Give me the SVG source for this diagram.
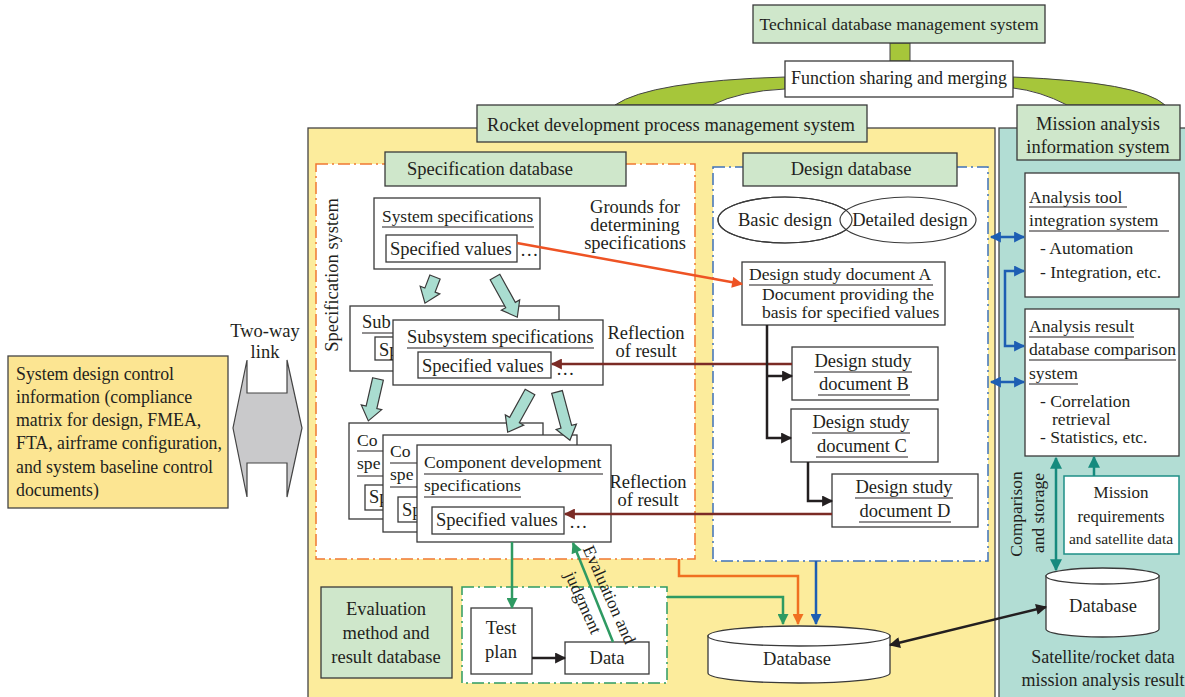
<svg xmlns="http://www.w3.org/2000/svg" width="1185" height="697" viewBox="0 0 1185 697">
<defs>
<style>
text{font-family:"Liberation Serif","Times New Roman",serif;font-size:18.5px;fill:#231f20}
.c{text-anchor:middle}
.s{font-size:17.6px}
.box{fill:#fff;stroke:#3a3a3a;stroke-width:1.3}
.lbl{fill:#cfe7cb;stroke:#3a3a3a;stroke-width:1.3}
.ul{stroke:#231f20;stroke-width:1.2}
.blk{fill:#a9ddd0;stroke:#3a3a3a;stroke-width:1.2}
.ln{fill:none;stroke-width:2.5}
.dd{fill:#fff;stroke-width:1.5;stroke-dasharray:12 4 2 4}
</style>
<marker id="mk" viewBox="0 0 10 10" refX="9" refY="5" markerWidth="12" markerHeight="11" markerUnits="userSpaceOnUse" orient="auto-start-reverse"><path d="M0,0L10,5L0,10z" fill="#231f20"/></marker>
<marker id="mo" viewBox="0 0 10 10" refX="9" refY="5" markerWidth="13" markerHeight="11" markerUnits="userSpaceOnUse" orient="auto-start-reverse"><path d="M0,0L10,5L0,10z" fill="#ee5324"/></marker>
<marker id="mo2" viewBox="0 0 10 10" refX="9" refY="5" markerWidth="13" markerHeight="11" markerUnits="userSpaceOnUse" orient="auto-start-reverse"><path d="M0,0L10,5L0,10z" fill="#f07020"/></marker>
<marker id="mr" viewBox="0 0 10 10" refX="9" refY="5" markerWidth="13" markerHeight="11" markerUnits="userSpaceOnUse" orient="auto-start-reverse"><path d="M0,0L10,5L0,10z" fill="#7b2b25"/></marker>
<marker id="mg" viewBox="0 0 10 10" refX="9" refY="5" markerWidth="13" markerHeight="11" markerUnits="userSpaceOnUse" orient="auto-start-reverse"><path d="M0,0L10,5L0,10z" fill="#2e9a62"/></marker>
<marker id="mb" viewBox="0 0 10 10" refX="9" refY="5" markerWidth="13" markerHeight="11" markerUnits="userSpaceOnUse" orient="auto-start-reverse"><path d="M0,0L10,5L0,10z" fill="#1d5eb3"/></marker>
<marker id="mt" viewBox="0 0 10 10" refX="9" refY="5" markerWidth="14" markerHeight="12" markerUnits="userSpaceOnUse" orient="auto-start-reverse"><path d="M0,0L10,5L0,10z" fill="#168a7e"/></marker>
</defs>
<rect width="1185" height="697" fill="#fff"/>

<!-- panels -->
<g id="rocket-panel">
<rect x="308" y="128" width="687" height="575" fill="#fcec9c" stroke="#444" stroke-width="1.3"/>
</g>
<g id="mission-panel">
<rect x="999" y="128" width="200" height="575" fill="#b2ddd4" stroke="#444" stroke-width="1.3"/>
</g>

<!-- top green links -->
<g id="top-links" fill="#a6c63a" stroke="#444" stroke-width="1">
<rect x="890" y="43" width="20" height="18"/>
<path d="M785,77 Q650,81 615,105 L712,105 Q740,91 785,89 Z"/>
<path d="M1013,77 Q1140,82 1165,105 L1067,105 Q1040,91 1013,88 Z"/>
</g>

<g id="technical">
<rect class="lbl" x="753" y="5" width="292" height="38"/>
<text class="c" x="899" y="30" style="font-size:17.5px">Technical database management system</text>
</g>
<g id="function">
<rect class="box" x="785" y="61" width="228" height="36"/>
<text class="c" x="899" y="84" style="font-size:18px">Function sharing and merging</text>
</g>
<g id="rocket-label">
<rect class="lbl" x="477" y="105" width="390" height="37"/>
<text class="c" x="671" y="131">Rocket development process management system</text>
</g>
<g id="mission-label">
<rect class="lbl" x="1017" y="105" width="163" height="55"/>
<text class="c" x="1098" y="130">Mission analysis</text>
<text class="c" x="1098" y="153">information system</text>
</g>

<!-- left -->
<g id="system-design-control">
<rect x="8" y="356" width="220" height="152" fill="#fce592" stroke="#444" stroke-width="1.3"/>
<text x="16" y="380" style="font-size:17.8px">System design control</text>
<text x="16" y="403" style="font-size:17.8px">information (compliance</text>
<text x="16" y="426" style="font-size:17.8px">matrix for design, FMEA,</text>
<text x="16" y="449" style="font-size:17.8px">FTA, airframe configuration,</text>
<text x="16" y="473" style="font-size:17.8px">and system baseline control</text>
<text x="16" y="496" style="font-size:17.8px">documents)</text>
</g>
<g id="two-way-link">
<path d="M247,360 L247,393 L287,393 L287,360 L302,428 L287,497 L287,463 L247,463 L247,497 L233,428 Z" fill="#c9c9cb" stroke="#444" stroke-width="1.2"/>
<text class="c" x="265" y="337">Two-way</text>
<text class="c" x="265" y="358">link</text>
</g>

<!-- specification database -->
<g id="spec-db">
<rect class="dd" x="316" y="164" width="379" height="395" stroke="#f07832"/>
<rect class="lbl" x="385" y="152" width="241" height="34"/>
<text class="c" x="490" y="175">Specification database</text>
<text class="c" transform="translate(338,275) rotate(-90)">Specification system</text>
<text class="c" x="635" y="213">Grounds for</text>
<text class="c" x="635" y="231">determining</text>
<text class="c" x="635" y="249">specifications</text>
<text class="c" x="646" y="339">Reflection</text>
<text class="c" x="646" y="357">of result</text>
<text class="c" x="648" y="488">Reflection</text>
<text class="c" x="648" y="506">of result</text>
</g>

<g id="system-spec">
<rect class="box" x="374" y="198" width="166" height="71"/>
<text x="382" y="222" style="font-size:17.4px">System specifications</text>
<line class="ul" x1="382" y1="227" x2="534" y2="227"/>
<rect class="box" x="386" y="235" width="131" height="27"/>
<text x="390" y="255">Specified values</text>
<text x="520" y="256">…</text>
</g>

<g id="subsystem-spec-back">
<rect class="box" x="350" y="306" width="209" height="65"/>
<text x="362" y="328">Sub</text>
<line class="ul" x1="362" y1="333" x2="549" y2="333"/>
<rect class="box" x="375" y="337" width="133" height="23"/>
<text x="379" y="356">Sp</text>
</g>
<g id="subsystem-spec">
<rect class="box" x="393" y="320" width="210" height="65"/>
<text x="407" y="343">Subsystem specifications</text>
<line class="ul" x1="407" y1="348" x2="594" y2="348"/>
<rect class="box" x="418" y="352" width="133" height="26"/>
<text x="422" y="372">Specified values</text>
<text x="556" y="375">…</text>
</g>

<g id="component-spec-1">
<rect class="box" x="349" y="423" width="194" height="96"/>
<text x="357" y="446" class="s">Co</text>
<line class="ul" x1="357" y1="451" x2="536" y2="451"/>
<text x="357" y="469" class="s">spe</text>
<line class="ul" x1="357" y1="476" x2="454" y2="476"/>
<rect class="box" x="365" y="485" width="132" height="25"/>
<text x="369" y="503">Sp</text>
</g>
<g id="component-spec-2">
<rect class="box" x="383" y="435" width="194" height="97"/>
<text x="390" y="457" class="s">Co</text>
<line class="ul" x1="390" y1="463" x2="569" y2="463"/>
<text x="390" y="480" class="s">spe</text>
<line class="ul" x1="390" y1="487" x2="487" y2="487"/>
<rect class="box" x="398" y="497" width="132" height="25"/>
<text x="402" y="516">Sp</text>
</g>
<g id="component-spec">
<rect class="box" x="417" y="445" width="194" height="97"/>
<text x="424" y="468" class="s">Component development</text>
<line class="ul" x1="424" y1="474" x2="603" y2="474"/>
<text x="424" y="491" class="s">specifications</text>
<line class="ul" x1="424" y1="497" x2="521" y2="497"/>
<rect class="box" x="432" y="507" width="132" height="27"/>
<text x="436" y="526">Specified values</text>
<text x="569" y="528">…</text>
</g>

<g id="block-arrows">
<polygon class="blk" transform="translate(435,277) rotate(21)" points="-5.5,0 5.5,0 5.5,14 10.5,14 0,28 -10.5,14 -5.5,14"/>
<polygon class="blk" transform="translate(495,277) rotate(-29)" points="-5.5,0 5.5,0 5.5,32 10.5,32 0,46 -10.5,32 -5.5,32"/>
<polygon class="blk" transform="translate(378,379) rotate(13)" points="-5.5,0 5.5,0 5.5,29 10.5,29 0,43 -10.5,29 -5.5,29"/>
<polygon class="blk" transform="translate(530,392) rotate(29)" points="-5.5,0 5.5,0 5.5,32 10.5,32 0,46 -10.5,32 -5.5,32"/>
<polygon class="blk" transform="translate(557,392) rotate(-15)" points="-5.5,0 5.5,0 5.5,36 10.5,36 0,50 -10.5,36 -5.5,36"/>
</g>

<!-- design database -->
<g id="design-db">
<rect class="dd" x="713" y="167" width="275" height="394" stroke="#3f72b8"/>
<rect class="lbl" x="743" y="153" width="214" height="33"/>
<text class="c" x="851" y="175">Design database</text>
</g>
<g id="basic-design">
<ellipse cx="785" cy="220" rx="67" ry="23" fill="#fff" stroke="#3a3a3a" stroke-width="1.2"/>
</g>
<g id="detailed-design">
<ellipse cx="908" cy="220" rx="68" ry="23" fill="#fff" stroke="#3a3a3a" stroke-width="1.2"/>
<ellipse cx="785" cy="220" rx="67" ry="23" fill="none" stroke="#3a3a3a" stroke-width="1.2"/>
<text class="c" x="785" y="226">Basic design</text>
<text class="c" x="910" y="226">Detailed design</text>
</g>
<g id="doc-a">
<rect class="box" x="742" y="262" width="203" height="63"/>
<text x="749" y="280" class="s">Design study document A</text>
<line class="ul" x1="749" y1="285" x2="933" y2="285"/>
<text x="762" y="300" class="s">Document providing the</text>
<text x="762" y="318" class="s">basis for specified values</text>
</g>
<g id="doc-b">
<rect class="box" x="792" y="347" width="146" height="53"/>
<text class="c" x="863" y="367">Design study</text>
<line class="ul" x1="814" y1="372" x2="912" y2="372"/>
<text class="c" x="864" y="390">document B</text>
<line class="ul" x1="818" y1="395" x2="910" y2="395"/>
</g>
<g id="doc-c">
<rect class="box" x="791" y="409" width="147" height="53"/>
<text class="c" x="861" y="428">Design study</text>
<line class="ul" x1="812" y1="433" x2="910" y2="433"/>
<text class="c" x="862" y="452">document C</text>
<line class="ul" x1="816" y1="457" x2="908" y2="457"/>
</g>
<g id="doc-d">
<rect class="box" x="832" y="474" width="146" height="53"/>
<text class="c" x="904" y="493">Design study</text>
<line class="ul" x1="855" y1="498" x2="953" y2="498"/>
<text class="c" x="905" y="517">document D</text>
<line class="ul" x1="859" y1="522" x2="951" y2="522"/>
</g>

<!-- evaluation -->
<g id="eval-db">
<rect class="lbl" x="321" y="587" width="131" height="91"/>
<text class="c" x="386" y="615">Evaluation</text>
<text class="c" x="386" y="639">method and</text>
<text class="c" x="386" y="663">result database</text>
</g>
<g id="eval-area">
<rect class="dd" x="462" y="587" width="205" height="96" stroke="#2e9a62"/>
</g>
<g id="test-plan">
<rect class="box" x="471" y="608" width="61" height="66"/>
<text class="c" x="501" y="634">Test</text>
<text class="c" x="501" y="658">plan</text>
</g>
<g id="data">
<rect class="box" x="565" y="642" width="84" height="32"/>
<text class="c" x="607" y="664">Data</text>
</g>

<g id="main-database">
<path d="M708,636 V673 A91,10 0 0 0 890,673 V636 Z" fill="#fff" stroke="#3a3a3a" stroke-width="1.3"/>
<ellipse cx="799" cy="636" rx="91" ry="10" fill="#fff" stroke="#3a3a3a" stroke-width="1.3"/>
<text class="c" x="797" y="665">Database</text>
</g>

<!-- right panel -->
<g id="analysis-tool">
<rect class="box" x="1025" y="173" width="154" height="124"/>
<text x="1029" y="203" class="s">Analysis tool</text>
<line class="ul" x1="1029" y1="207" x2="1127" y2="207"/>
<text x="1029" y="226" class="s">integration system</text>
<line class="ul" x1="1029" y1="231" x2="1169" y2="231"/>
<text x="1040" y="254" class="s">- Automation</text>
<text x="1040" y="278" class="s">- Integration, etc.</text>
</g>
<g id="analysis-result">
<rect class="box" x="1025" y="309" width="154" height="147"/>
<text x="1029" y="332" class="s">Analysis result</text>
<line class="ul" x1="1029" y1="337" x2="1134" y2="337"/>
<text x="1029" y="355" class="s">database comparison</text>
<line class="ul" x1="1029" y1="360" x2="1176" y2="360"/>
<text x="1029" y="379" class="s">system</text>
<line class="ul" x1="1029" y1="384" x2="1078" y2="384"/>
<text x="1040" y="407" class="s">- Correlation</text>
<text x="1052" y="425" class="s">retrieval</text>
<text x="1040" y="443" class="s">- Statistics, etc.</text>
</g>
<g id="mission-requirements">
<rect x="1064" y="476" width="115" height="78" fill="#fff" stroke="#1e8f86" stroke-width="1.5"/>
<text class="c" x="1121" y="498" style="font-size:17px">Mission</text>
<text class="c" x="1121" y="522" style="font-size:16.7px">requirements</text>
<text class="c" x="1121" y="544" style="font-size:15.5px">and satellite data</text>
</g>
<g id="satellite-database">
<path d="M1046,576 V629 A56.5,8 0 0 0 1159,629 V576 Z" fill="#fff" stroke="#3a3a3a" stroke-width="1.3"/>
<ellipse cx="1102.5" cy="576" rx="56.5" ry="8" fill="#fff" stroke="#3a3a3a" stroke-width="1.3"/>
<text class="c" x="1103" y="612">Database</text>
<text class="c" x="1103" y="663" style="font-size:18px">Satellite/rocket data</text>
<text class="c" x="1103" y="686" style="font-size:18px">mission analysis result</text>
</g>

<!-- connectors -->
<g id="connectors">
<path class="ln" stroke="#ee5324" d="M517,243 L742,284" marker-end="url(#mo)"/>
<path class="ln" stroke="#7b2b25" d="M792,364 H552" marker-end="url(#mr)"/>
<path class="ln" stroke="#7b2b25" d="M832,514 H565" marker-end="url(#mr)"/>
<path class="ln" stroke="#231f20" d="M767,325 V438 H791" marker-end="url(#mk)"/>
<path class="ln" stroke="#231f20" d="M767,376 H792" marker-end="url(#mk)"/>
<path class="ln" stroke="#231f20" d="M808,462 V501 H832" marker-end="url(#mk)"/>
<path class="ln" stroke="#1d5eb3" d="M991,237 H1024" marker-start="url(#mb)" marker-end="url(#mb)"/>
<path class="ln" stroke="#1d5eb3" d="M991,382 H1024" marker-start="url(#mb)" marker-end="url(#mb)"/>
<path class="ln" stroke="#1d5eb3" d="M1024,271 H1005 V346 H1024" marker-start="url(#mb)" marker-end="url(#mb)"/>
<path class="ln" stroke="#168a7e" stroke-width="3" d="M1094,476 V457" marker-end="url(#mt)"/>
<path class="ln" stroke="#168a7e" stroke-width="3" d="M1056,458 V570" marker-start="url(#mt)" marker-end="url(#mt)"/>
<path class="ln" stroke="#231f20" d="M890,645 L1046,607" marker-start="url(#mk)" marker-end="url(#mk)"/>
<path class="ln" stroke="#2e9a62" d="M512,542 V608" marker-end="url(#mg)"/>
<path class="ln" stroke="#2e9a62" d="M613,642 L573,543" marker-end="url(#mg)"/>
<path class="ln" stroke="#2e9a62" d="M667,597 H783 V624" marker-end="url(#mg)"/>
<path class="ln" stroke="#f07020" d="M679,559 V576 H798 V624" marker-end="url(#mo2)"/>
<path class="ln" stroke="#1d5eb3" d="M816,561 V624" marker-end="url(#mb)"/>
<path class="ln" stroke="#231f20" d="M532,658 H565" marker-end="url(#mk)"/>
<text class="c" transform="translate(604,597) rotate(66)" style="font-size:17.5px">Evaluation and</text>
<text class="c" transform="translate(578,605) rotate(66)" style="font-size:17.5px">judgment</text>
<text class="c" transform="translate(1022,514) rotate(-90)" style="font-size:17.5px">Comparison</text>
<text class="c" transform="translate(1044,513) rotate(-90)" style="font-size:17.5px">and storage</text>
</g>
</svg>
